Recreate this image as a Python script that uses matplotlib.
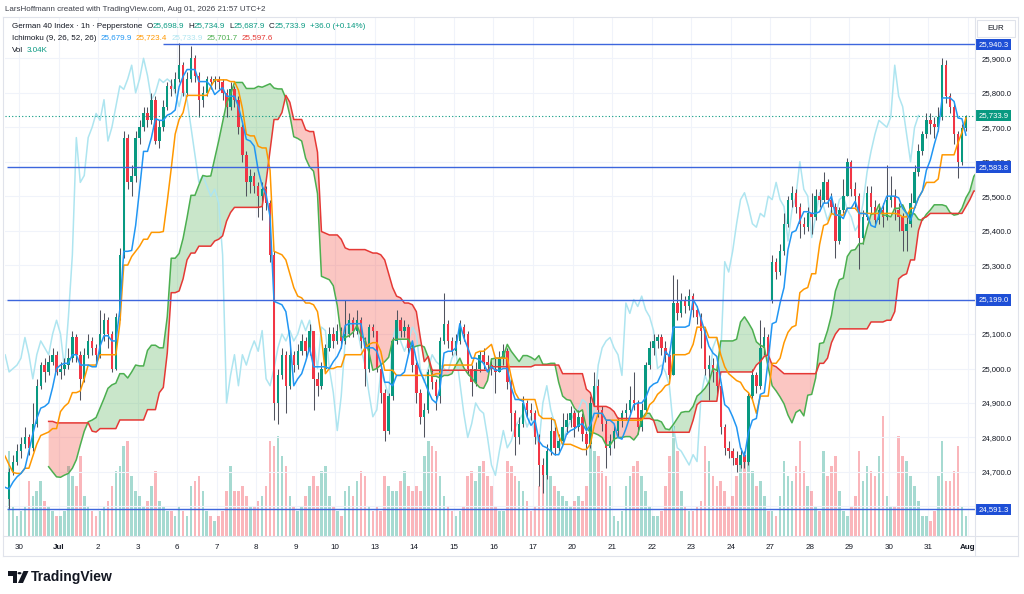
import numpy as np
import pandas as pd
import matplotlib
matplotlib.use("Agg")
import matplotlib.pyplot as plt
import matplotlib.transforms as mtrans
from matplotlib.patches import Rectangle, Polygon, Circle
from matplotlib.lines import Line2D

W, H, DPI = 1024, 594, 100
FONT = ["Liberation Sans", "DejaVu Sans"]
plt.rcParams["font.family"] = FONT

# ---------------- data ----------------
day_labels = ["30", "Jul", "2", "3", "6", "7", "8", "9", "10", "13", "14", "15", "16",
              "17", "20", "21", "22", "23", "24", "27", "28", "29", "30", "31", "Aug"]
BARS_PER_DAY = 10          # 2h-bars per session day
LEAD_BARS = 3              # bars of Jun 29 shown before the first label

# hidden history (needed by the indicator windows)
pre_close = [24950, 24990, 25020, 25050, 25010, 25040, 25070, 25030, 25060, 25080, 25040,
             24980, 24920, 24880, 24850, 24800, 24760, 24780, 24740, 24700, 24720, 24690,
             24660, 24700, 24640, 24680, 24620]
pre_high = [24970, 25010, 25040, 25070, 25060, 25060, 25080, 25075, 25070, 25090, 25093,
            25045, 24990, 24930, 24890, 24815, 24805, 24800, 24790, 24750, 24740, 24730,
            24700, 24710, 24705, 24690, 24690]
pre_low = [24920, 24940, 24980, 25010, 25000, 25000, 25030, 25020, 25020, 25050, 25030,
           24970, 24910, 24870, 24840, 24790, 24750, 24750, 24730, 24690, 24690, 24670,
           24640, 24650, 24600, 24630, 24610]

close = [
    24700, 24730, 24760,
    24780, 24800, 24770, 24840, 24950, 25010, 24990, 25020, 25040, 24990,
    25000, 25010, 25030, 25090, 25040, 24970, 25040, 25080, 25060, 25040,
    25100, 25140, 25100, 25000, 25150, 25330, 25670, 25540, 25560, 25670,
    25700, 25740, 25720, 25780, 25660, 25700, 25760, 25820, 25810, 25840,
    25880, 25800, 25840, 25900, 25850, 25780, 25800, 25840, 25830, 25840,
    25830, 25800, 25760, 25810, 25780, 25700, 25620, 25540, 25560, 25530,
    25500, 25520, 25480, 25330, 24900, 24980, 25040, 24950, 25040, 25010,
    25050, 25080, 25050, 25110, 24970, 24950, 25000, 25060, 25100, 25080,
    25110, 25080, 25100, 25140, 25110, 25140, 25080, 25000, 25120, 25110,
    25000, 24930, 24820, 24920, 25080, 25140, 25110, 25120, 25060, 25010,
    24930, 24860, 24880, 24990, 24960, 24920, 25080, 25130, 25080, 25050,
    25080, 25120, 25100, 25000, 24960, 25000, 25040, 25020, 25010, 25000,
    24990, 25030, 25050, 24960, 24870, 24800, 24840, 24900, 24880, 24870,
    24800, 24720, 24690, 24760, 24820, 24770, 24790, 24830, 24850, 24870,
    24830, 24860, 24810, 24780, 24900, 24950, 24880, 24840, 24770, 24790,
    24820, 24850, 24870, 24880, 24910, 24900, 24830, 24880, 25010, 25060,
    25080, 25090, 25060, 25040, 24980, 25190, 25160, 25200, 25180, 25210,
    25170, 25150, 25110, 25000, 25010, 24990, 24950, 24830, 24770, 24760,
    24740, 24720, 24750, 24730, 24920, 24980, 24950, 25060, 25090, 25040,
    25310, 25280, 25340, 25420, 25490, 25510, 25470, 25420, 25410, 25450,
    25440, 25500, 25490, 25540, 25490, 25470, 25370, 25460, 25500, 25600,
    25520, 25500, 25380, 25440, 25510, 25470, 25430, 25460, 25440, 25490,
    25500, 25460, 25440, 25400, 25420, 25480, 25570, 25630, 25680, 25720,
    25710, 25700, 25730, 25880, 25790, 25760, 25680, 25600, 25698.9, 25733.9,
]
high = [
    24710, 24750, 24780,
    24800, 24830, 24810, 24900, 24970, 25020, 25030, 25040, 25060, 25050,
    25020, 25030, 25060, 25110, 25100, 25050, 25060, 25100, 25090, 25070,
    25170, 25160, 25150, 25110, 25160, 25350, 25690, 25680, 25590, 25690,
    25720, 25760, 25760, 25800, 25790, 25720, 25780, 25830, 25840, 25860,
    25945, 25890, 25860, 25935, 25910, 25860, 25820, 25850, 25850, 25850,
    25850, 25840, 25810, 25830, 25820, 25790, 25710, 25630, 25580, 25570,
    25540, 25540, 25530, 25490, 25340, 25000, 25060, 25050, 25060, 25050,
    25070, 25100, 25090, 25130, 25110, 24990, 25020, 25070, 25120, 25120,
    25130, 25120, 25200, 25160, 25150, 25170, 25150, 25090, 25130, 25130,
    25110, 25010, 24940, 24930, 25090, 25170, 25150, 25140, 25130, 25070,
    25020, 24940, 24900, 25000, 25000, 24970, 25090, 25220, 25140, 25090,
    25100, 25140, 25130, 25110, 25010, 25020, 25050, 25060, 25040, 25030,
    25030, 25050, 25070, 25060, 24970, 24880, 24860, 24920, 24910, 24900,
    24880, 24810, 24740, 24780, 24860, 24830, 24810, 24870, 24870, 24890,
    24880, 24880, 24870, 24820, 24920, 24990, 24970, 24890, 24850, 24810,
    24840, 24860, 24880, 24900, 24950, 24990, 24910, 24900, 25020, 25080,
    25100, 25100, 25100, 25080, 25050, 25270, 25260, 25220, 25210, 25230,
    25220, 25180, 25160, 25120, 25040, 25030, 25000, 24960, 24840, 24790,
    24770, 24760, 24770, 24760, 24930, 25000, 24990, 25140, 25120, 25100,
    25330, 25320, 25360, 25450, 25500, 25530, 25520, 25480, 25440, 25470,
    25510, 25520, 25520, 25570, 25550, 25510, 25480, 25470, 25550, 25610,
    25605, 25540, 25510, 25460, 25530, 25530, 25490, 25480, 25480, 25590,
    25560, 25520, 25480, 25450, 25440, 25510, 25590, 25650, 25690, 25740,
    25740, 25730, 25760, 25900, 25895, 25800, 25770, 25690, 25710, 25734.9,
]
low = [
    24591.3, 24690, 24720,
    24740, 24770, 24750, 24760, 24830, 24940, 24960, 24980, 25010, 24980,
    24970, 24980, 25000, 25020, 25020, 24910, 24960, 25030, 25040, 25020,
    25030, 25080, 25060, 24990, 24995, 25140, 25320, 25520, 25500, 25540,
    25650, 25690, 25700, 25710, 25650, 25640, 25690, 25750, 25790, 25800,
    25830, 25790, 25790, 25830, 25830, 25730, 25760, 25790, 25810, 25810,
    25810, 25780, 25730, 25750, 25760, 25680, 25600, 25500, 25510, 25510,
    25440, 25430, 25460, 25310, 24850, 24840, 24970, 24870, 24940, 24990,
    25000, 25040, 25030, 25040, 24880, 24920, 24940, 24990, 25050, 25060,
    25070, 25060, 25070, 25090, 25090, 25100, 25060, 24950, 24990, 25090,
    24990, 24900, 24790, 24810, 24910, 25070, 25090, 25090, 25040, 24990,
    24900, 24840, 24800, 24870, 24940, 24880, 24900, 25070, 25060, 25040,
    25040, 25070, 25080, 24980, 24920, 24950, 24990, 25000, 24990, 24980,
    24930, 24990, 25010, 24940, 24820, 24750, 24780, 24830, 24860, 24850,
    24780, 24660, 24640, 24680, 24750, 24750, 24760, 24780, 24810, 24830,
    24800, 24820, 24790, 24750, 24770, 24890, 24860, 24820, 24710, 24750,
    24770, 24800, 24830, 24850, 24870, 24880, 24810, 24820, 24870, 25000,
    25040, 25060, 25040, 25020, 24970, 24980, 25140, 25150, 25160, 25170,
    25150, 25130, 25060, 24980, 24910, 24960, 24920, 24810, 24750, 24740,
    24720, 24700, 24710, 24710, 24720, 24910, 24930, 24940, 25040, 25020,
    25190, 25260, 25270, 25330, 25410, 25470, 25450, 25380, 25390, 25400,
    25390, 25430, 25470, 25480, 25470, 25450, 25320, 25360, 25450, 25500,
    25500, 25470, 25290, 25360, 25430, 25450, 25410, 25420, 25410, 25430,
    25470, 25430, 25400, 25340, 25340, 25410, 25470, 25560, 25620, 25670,
    25680, 25670, 25690, 25720, 25770, 25740, 25650, 25554, 25590, 25687.9,
]
gap_open = {193: 25200.0}   # Monday Jul 27 opening gap

volume_k = [
    17, 6, 4,
    5, 6, 11, 8, 9, 11, 7, 6, 5, 4,
    4, 5, 14, 12, 10, 16, 8, 6, 5, 4,
    5, 6, 7, 10, 13, 14, 18, 19, 12, 9,
    8, 6, 7, 10, 13, 7, 6, 5, 5, 4,
    6, 5, 4, 10, 11, 12, 9, 5, 4, 3,
    4, 5, 9, 14, 9, 9, 10, 8, 6, 6,
    7, 8, 10, 19, 18, 20, 16, 14, 8, 6,
    5, 6, 8, 10, 12, 10, 13, 14, 8, 6,
    5, 4, 9, 10, 8, 11, 13, 12, 6, 5,
    6, 5, 12, 10, 9, 9, 11, 13, 10, 9,
    10, 9, 16, 19, 18, 17, 12, 8, 6, 5,
    4, 5, 6, 12, 13, 11, 14, 15, 12, 10,
    6, 5, 5, 15, 14, 12, 11, 9, 7, 5,
    6, 10, 13, 14, 12, 10, 9, 8, 7, 6,
    7, 8, 7, 10, 20, 17, 16, 13, 12, 10,
    4, 3, 5, 10, 12, 14, 15, 12, 9, 6,
    4, 4, 5, 10, 16, 22, 17, 9, 6, 5,
    5, 6, 7, 18, 15, 12, 10, 11, 9, 6,
    8, 12, 16, 15, 16, 13, 10, 11, 8, 5,
    5, 4, 8, 15, 12, 11, 14, 19, 13, 10,
    9, 6, 5, 17, 12, 14, 16, 9, 5, 4,
    6, 8, 17, 11, 14, 13, 12, 16, 24, 8,
    6, 6, 20, 16, 15, 12, 10, 7, 4, 4,
    3, 5, 12, 19, 11, 11, 13, 18, 6, 4,
]

h_levels = [25940.3, 25583.8, 25199.0, 24591.3]
h_start = [39, -0.5, -0.5, -0.5]      # bar where each horizontal ray starts
last_price = 25733.9
price_ticks = list(range(24600, 26000, 100))

# Ichimoku settings (2h bars: half of the 1h 9/26/52/26 periods)
TENKAN, KIJUN, SPAN_B, DISP = 5, 13, 26, 12

# ---------------- colours ----------------
UP, DOWN = "#089981", "#F23645"
WICK = "#50535e"
C_TEN, C_KIJ, C_LAG, C_A, C_B = "#2196F3", "#FF9800", "#AEE5F0", "#4CAF50", "#E53935"
HL = "#3D66DD"
BOX = "#1E4FD6"
TXT = "#131722"
GRID = "#F0F3FA"
BORDER = "#E0E3EB"

# ---------------- series ----------------
n_pre = len(pre_close)
c_all = np.array(pre_close + close, float)
h_all = np.array(pre_high + high, float)
l_all = np.array(pre_low + low, float)
o_all = np.r_[c_all[0], c_all[:-1]]
for k, v in gap_open.items():
    o_all[n_pre + k] = v
h_all = np.maximum(h_all, np.maximum(o_all, c_all))
l_all = np.minimum(l_all, np.minimum(o_all, c_all))
idx = np.arange(-n_pre, len(close))

hs, ls = pd.Series(h_all), pd.Series(l_all)
def mid(p):
    return ((hs.rolling(p).max() + ls.rolling(p).min()) / 2).to_numpy()
tenkan = mid(TENKAN)
kijun = mid(KIJUN)
spanB = mid(SPAN_B)
spanA = (tenkan + kijun) / 2
spanA[np.isnan(spanB)] = np.nan      # cloud starts when both spans exist

# ---------------- figure ----------------
fig = plt.figure(figsize=(W / DPI, H / DPI), dpi=DPI, facecolor="white")
AX_L, AX_R, AX_T, AX_B = 5, 975, 18, 536
rect = [AX_L / W, 1 - AX_B / H, (AX_R - AX_L) / W, (AX_B - AX_T) / H]
axv = fig.add_axes(rect)
ax = fig.add_axes(rect)
ax.set_zorder(axv.get_zorder() + 1)
ax.patch.set_visible(False)

XMIN, XMAX = -1.04, 244.3
YMIN, YMAX = 24514, 26017
for a in (ax, axv):
    a.set_xlim(XMIN, XMAX)
    for s in a.spines.values():
        s.set_visible(False)
ax.set_ylim(YMIN, YMAX)

# grid (drawn on the lower axes so it stays behind the volume)
day_pos = [LEAD_BARS - 0.5 + BARS_PER_DAY * d for d in range(len(day_labels))]
for p in day_pos:
    axv.axvline(p, color=GRID, lw=0.8, zorder=0)
for p in price_ticks:
    ax.axhline(p, color=GRID, lw=0.8, zorder=0)

# volume
vis = idx >= 0
vx = idx[vis]
vup = c_all[vis] >= o_all[vis]
vcol = np.where(vup, UP, DOWN)
axv.bar(vx, volume_k, width=0.66, color=vcol, alpha=0.36, linewidth=0, zorder=1)
axv.set_ylim(0, 103.4)
axv.set_xticks([]); axv.set_yticks([])

# cloud
xc = idx + DISP
ax.fill_between(xc, spanA, spanB, where=spanA >= spanB, interpolate=True,
                color=C_A, alpha=0.3, linewidth=0, zorder=1)
ax.fill_between(xc, spanA, spanB, where=spanA < spanB, interpolate=True,
                color="#F44336", alpha=0.3, linewidth=0, zorder=1)

# candles
o, c, hh, ll = o_all[vis], c_all[vis], h_all[vis], l_all[vis]
up = c >= o
ax.vlines(vx, ll, hh, color=WICK, lw=0.75, zorder=2)
body = np.where(np.abs(c - o) < 2, 2, c - o)
ax.bar(vx, body, bottom=o, width=0.62, color=np.where(up, UP, DOWN), linewidth=0, zorder=2.1)

# ichimoku lines
ax.plot(idx - DISP, c_all, color=C_LAG, lw=1.1, zorder=1.5)
ax.plot(xc, spanA, color=C_A, lw=1.1, zorder=3)
ax.plot(xc, spanB, color=C_B, lw=1.1, zorder=3)
ax.plot(idx, kijun, color=C_KIJ, lw=1.1, zorder=3.1)
ax.plot(idx, tenkan, color=C_TEN, lw=1.1, zorder=3.2)

# horizontal rays
for lv, st in zip(h_levels, h_start):
    ax.hlines(lv, st, XMAX, color=HL, lw=1.0, zorder=4)
ax.axhline(last_price, color=UP, lw=0.8, ls=(0, (1, 2)), zorder=4)

# axes ticks
ax.set_xticks(day_pos)
ax.set_xticklabels(day_labels)
for t in ax.get_xticklabels():
    if t.get_text() in ("Jul", "Aug"):
        t.set_fontweight("bold")
ax.tick_params(axis="x", length=0, pad=6, labelsize=5.8, labelcolor=TXT)
ax.yaxis.tick_right()
shown_ticks = [p for p in price_ticks if min(abs(p - lv) for lv in h_levels) > 5]
ax.set_yticks(shown_ticks)
ax.set_yticklabels([f"{p:,.1f}" for p in shown_ticks])
ax.tick_params(axis="y", length=0, pad=4.5, labelsize=5.6, labelcolor=TXT)

# price labels on the axis
bt = mtrans.blended_transform_factory(fig.transFigure, ax.transData)
for lv in h_levels:
    ax.text(978.5 / W, lv, f"{lv:,.1f}", transform=bt, color="white", fontsize=5.6,
            va="center", ha="left", clip_on=False, zorder=10,
            bbox=dict(boxstyle="square,pad=0.3", fc=BOX, ec="none"))
ax.text(978.5 / W, last_price, f"{last_price:,.1f}", transform=bt, color="white",
        fontsize=5.6, va="center", ha="left", clip_on=False, zorder=10,
        bbox=dict(boxstyle="square,pad=0.3", fc=UP, ec="none"))

# frame lines (pixel coords)
def px(x, y):
    return x / W, 1 - y / H
def fline(x0, y0, x1, y1, col=BORDER, lw=0.8):
    (a, b), (cc, d) = px(x0, y0), px(x1, y1)
    fig.add_artist(Line2D([a, cc], [b, d], color=col, lw=lw, transform=fig.transFigure))
fline(3, 17, 1018, 17)
fline(3, 556, 1018, 556)
fline(3, 17, 3, 556)
fline(1018, 17, 1018, 556)
fline(975, 17, 975, 556)
fline(3, 536, 1018, 536)

# EUR box
fig.add_artist(Rectangle(px(977, 37), 38 / W, 17 / H, transform=fig.transFigure,
                         fc="white", ec=BORDER, lw=0.8, zorder=5))
fig.text(*px(996, 28.5), "EUR", fontsize=5.8, color=TXT, ha="center", va="center", zorder=6)

# header text
renderer = fig.canvas.get_renderer()
def seq(x0, y0, parts, size=5.8):
    x = x0
    for s, col, gap in parts:
        t = fig.text(*px(x, y0), s, color=col, fontsize=size, ha="left", va="center", zorder=6)
        x += t.get_window_extent(renderer=renderer).width + gap

seq(5, 9.5, [("LarsHoffmann created with TradingView.com, Aug 01, 2026 21:57 UTC+2", "#3b3e48", 0)])
seq(12, 26, [("German 40 Index · 1h · Pepperstone", TXT, 4),
             ("O", TXT, 0), ("25,698.9", UP, 4),
             ("H", TXT, 0), ("25,734.9", UP, 4),
             ("L", TXT, 0), ("25,687.9", UP, 4),
             ("C", TXT, 0), ("25,733.9", UP, 4),
             ("+36.0 (+0.14%)", UP, 0)])
seq(12, 38, [("Ichimoku (9, 26, 52, 26)", TXT, 4),
             ("25,679.9", C_TEN, 4), ("25,723.4", C_KIJ, 4), ("25,733.9", C_LAG, 4),
             ("25,701.7", C_A, 4), ("25,597.6", C_B, 0)])
seq(12, 50, [("Vol", TXT, 4), ("3.04K", UP, 0)])

# TradingView logo
def poly(pts, **kw):
    fig.add_artist(Polygon([px(*p) for p in pts], closed=True, transform=fig.transFigure, **kw))
poly([(8, 571), (17, 571), (17, 583), (12.5, 583), (12.5, 575.5), (8, 575.5)], fc=TXT, ec="none")
fig.add_artist(Circle(px(19.5, 573.2), 2.0 / W, transform=fig.transFigure, fc=TXT, ec="none"))
poly([(23.5, 571), (28.5, 571), (23, 583), (18, 583)], fc=TXT, ec="none")
fig.text(*px(31, 577), "TradingView", fontsize=10, fontweight="bold", color=TXT,
         ha="left", va="center")

fig.savefig("out.png", dpi=DPI, facecolor="white")
